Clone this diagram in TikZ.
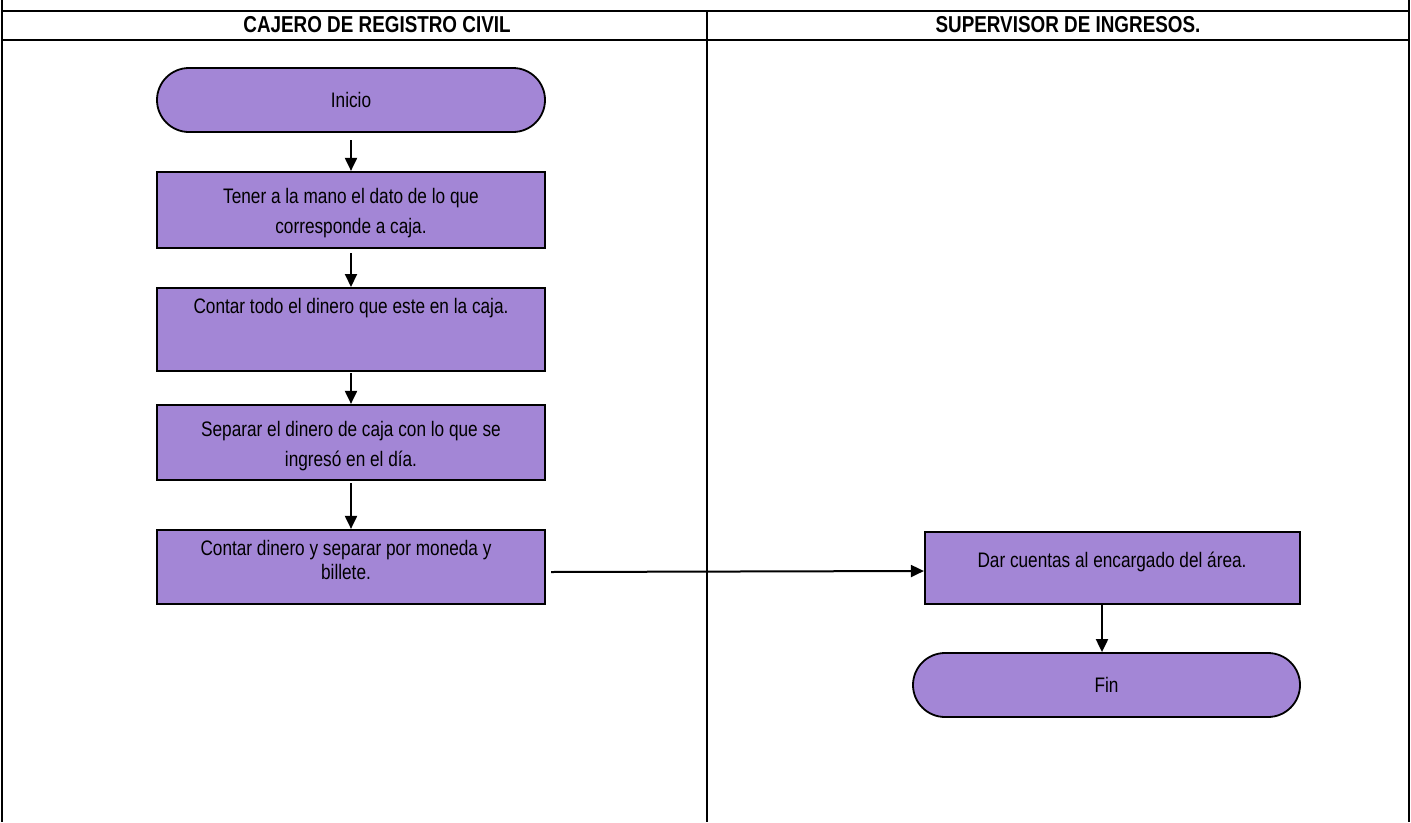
\documentclass[tikz,border=0pt]{standalone}
\usepackage{fontspec}
\setmainfont{Liberation Sans}[FakeStretch=0.82]
\usetikzlibrary{arrows.meta,shapes.misc}
\definecolor{boxfill}{RGB}{163,134,214}
\tikzset{
  x=1pt, y=-1pt,
  frame/.style={line width=1.8pt, black},
  procbox/.style={draw=black, line width=2.2pt, fill=boxfill, minimum width=388pt, inner sep=0pt},
  txt/.style={align=center, font=\fontsize{21}{30}\selectfont, inner sep=0pt},
  termbox/.style={draw=black, line width=1.8pt, fill=boxfill, rounded rectangle, minimum width=388pt, minimum height=64pt, font=\fontsize{21}{24}\selectfont, inner sep=0pt},
  flow/.style={line width=2pt, -{Triangle[length=13pt,width=12pt]}},
  header/.style={font=\bfseries\fontsize{23}{24}\selectfont, inner sep=0pt}
}
\begin{document}
\begin{tikzpicture}
\useasboundingbox (0,0) rectangle (1411,822);
% swimlane frame
\draw[frame] (2,0) -- (2,822);
\draw[frame] (1409,0) -- (1409,822);
\draw[frame] (2,11) -- (1409,11);
\draw[frame] (2,40) -- (1409,40);
\draw[frame] (707,11) -- (707,822);
\node[header, anchor=base] (h1) at (377,32) {CAJERO DE REGISTRO CIVIL};
\node[header, anchor=base] (h2) at (1068,32) {SUPERVISOR DE INGRESOS.};
% nodes
\node[termbox] (inicio) at (351,100) {Inicio};
\node[procbox, minimum height=76pt] (b1) at (351,210) {};
\node[txt] (t1) at (351,213) {Tener a la mano el dato de lo que\\corresponde a caja.};
\node[procbox, minimum height=83pt, anchor=north] (b2) at (351,287) {};
\node[txt] (t2) at (351,308) {Contar todo el dinero que este en la caja.};
\node[procbox, minimum height=75pt] (b3) at (351,442.5) {};
\node[txt] (t3) at (351,446) {Separar el dinero de caja con lo que se\\ingresó en el día.};
\node[procbox, minimum height=74pt] (b4) at (351,567) {};
\node[txt, font=\fontsize{21}{24}\selectfont] (t4) at (346,560) {Contar dinero y separar por moneda y\\billete.};
\node[procbox, minimum height=72pt, minimum width=375pt] (b5) at (1112.5,568) {};
\node[txt] (t5) at (1112,562) {Dar cuentas al encargado del área.};
\node[termbox, minimum width=387pt] (fin) at (1106.5,685) {Fin};
% connectors
\coordinate (s1) at (351,140);
\coordinate (s2) at (351,253);
\coordinate (s3) at (351,373);
\coordinate (s4) at (351,483);
\coordinate (s5) at (551,572);
\coordinate (s6) at (1102,604);
\draw[flow] (s1) -- (s1 |- b1.north);
\draw[flow] (s2) -- (s2 |- b2.north);
\draw[flow] (s3) -- (s3 |- b3.north);
\draw[flow] (s4) -- (s4 |- b4.north);
\draw[flow] (s5) -- (b5.west |- 0,571);
\draw[flow] (s6) -- (s6 |- fin.north);
\end{tikzpicture}
\end{document}
